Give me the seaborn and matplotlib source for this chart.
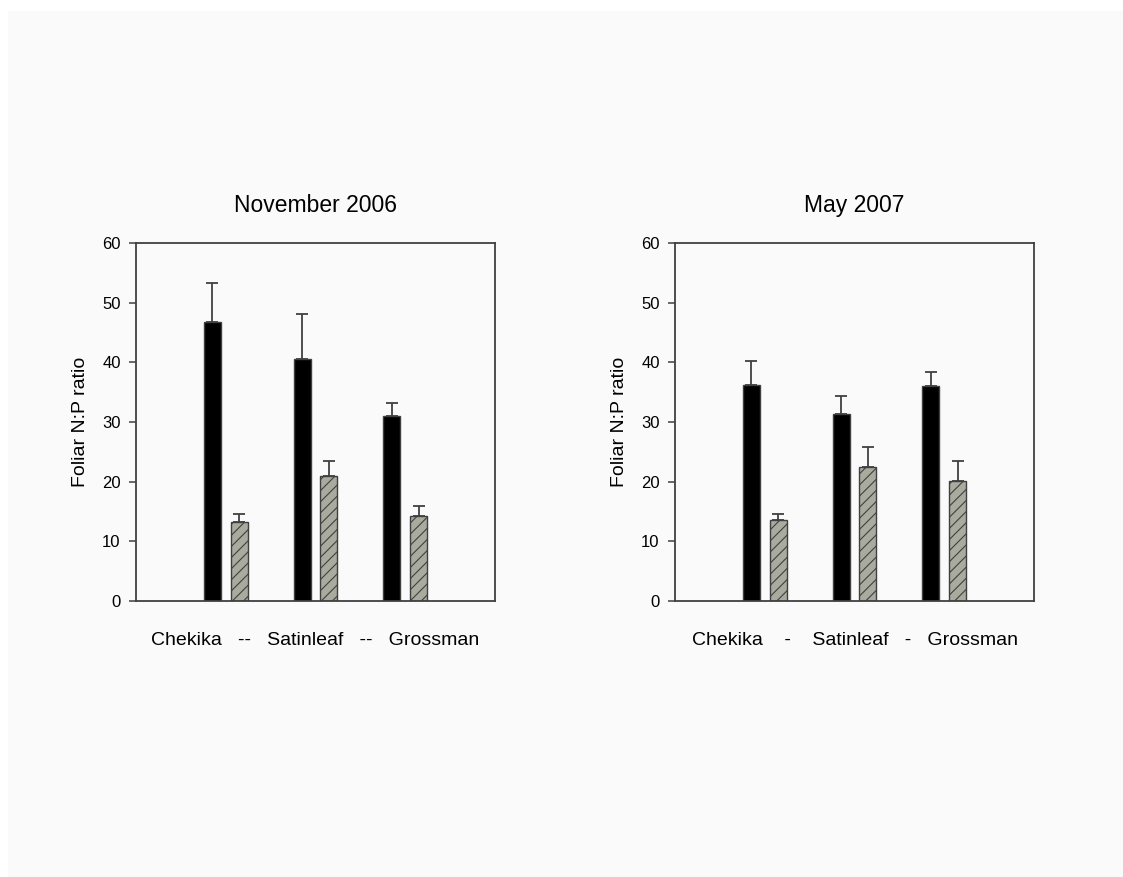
import numpy as np
import pandas as pd
import matplotlib
matplotlib.use("Agg")
import matplotlib.pyplot as plt
from matplotlib.patches import Rectangle
import seaborn as sns

sites = ["Chekika", "Satinleaf", "Grossman"]
treatments = ["A", "B"]

nov_black = [46.8, 40.6, 31.0]
nov_black_err = [6.5, 7.5, 2.2]
nov_hatch = [13.2, 20.9, 14.2]
nov_hatch_err = [1.3, 2.6, 1.7]

may_black = [36.2, 31.4, 36.0]
may_black_err = [4.0, 2.9, 2.4]
may_hatch = [13.5, 22.5, 20.1]
may_hatch_err = [1.1, 3.3, 3.4]

titles = ["November 2006", "May 2007"]
xlabels = ["Chekika   --   Satinleaf   --   Grossman",
           "Chekika    -    Satinleaf   -   Grossman"]
ylabel = "Foliar N:P ratio"
yticks = [0, 10, 20, 30, 40, 50, 60]

sns.set_theme(style="white")
plt.rcParams["font.family"] = ["Liberation Sans", "DejaVu Sans"]
plt.rcParams["hatch.linewidth"] = 0.8

BG = "#fafafa"
EDGE = "#404040"
HATCH_FILL = "#a9ab9e"

fig = plt.figure(figsize=(11.23, 8.77), dpi=100, facecolor="white")
fig.patches.append(Rectangle((8 / 1123, 0), 1 - 8 / 1123, 1 - 11 / 877,
                             transform=fig.transFigure, facecolor=BG,
                             edgecolor="none", zorder=-10))

W, H = 1123, 877
axes_px = [(136, 243, 495, 601), (675, 243, 1034, 601)]

panels = [
    (nov_black, nov_black_err, nov_hatch, nov_hatch_err),
    (may_black, may_black_err, may_hatch, may_hatch_err),
]

for i, (l, t, r, b) in enumerate(axes_px):
    ax = fig.add_axes([l / W, 1 - b / H, (r - l) / W, (b - t) / H])
    bv, be, hv, he = panels[i]
    df = pd.DataFrame({
        "site": sites * 2,
        "treat": [treatments[0]] * 3 + [treatments[1]] * 3,
        "value": list(bv) + list(hv),
    })
    sns.barplot(data=df, x="site", y="value", hue="treat", order=sites,
                hue_order=treatments, palette=["black", HATCH_FILL],
                width=0.6, gap=0.37, errorbar=None, legend=False, ax=ax,
                edgecolor=EDGE, linewidth=1.0, saturation=1)
    bars = [p for p in ax.patches]
    errs = list(be) + list(he)
    vals = list(bv) + list(hv)
    for j, p in enumerate(bars):
        if j >= 3:
            p.set_hatch("///")
        p.set_zorder(2)
        xc = p.get_x() + p.get_width() / 2
        ax.errorbar(xc, vals[j], yerr=[[0], [errs[j]]], fmt="none",
                    ecolor=EDGE, elinewidth=1.3, capsize=4, capthick=1.3,
                    zorder=1)
    ax.set_xlim(-1, 3)
    ax.set_ylim(0, 60)
    ax.set_yticks(yticks)
    ax.set_yticklabels([str(v) for v in yticks], fontsize=12, color="black")
    ax.set_xticks([])
    ax.set_facecolor("none")
    for s in ax.spines.values():
        s.set_visible(True)
        s.set_color(EDGE)
        s.set_linewidth(1.3)
    ax.tick_params(axis="y", left=True, length=5, width=1.1, color=EDGE,
                   pad=6, direction="out")
    ax.set_title(titles[i], fontsize=16.5, pad=22, color="black")
    ax.set_xlabel(xlabels[i], fontsize=14, labelpad=22, color="black")
    ax.set_ylabel(ylabel, fontsize=14, color="black")
    ax.yaxis.set_label_coords(-0.131, 0.5)

fig.savefig("out.png", dpi=100, facecolor=fig.get_facecolor())
